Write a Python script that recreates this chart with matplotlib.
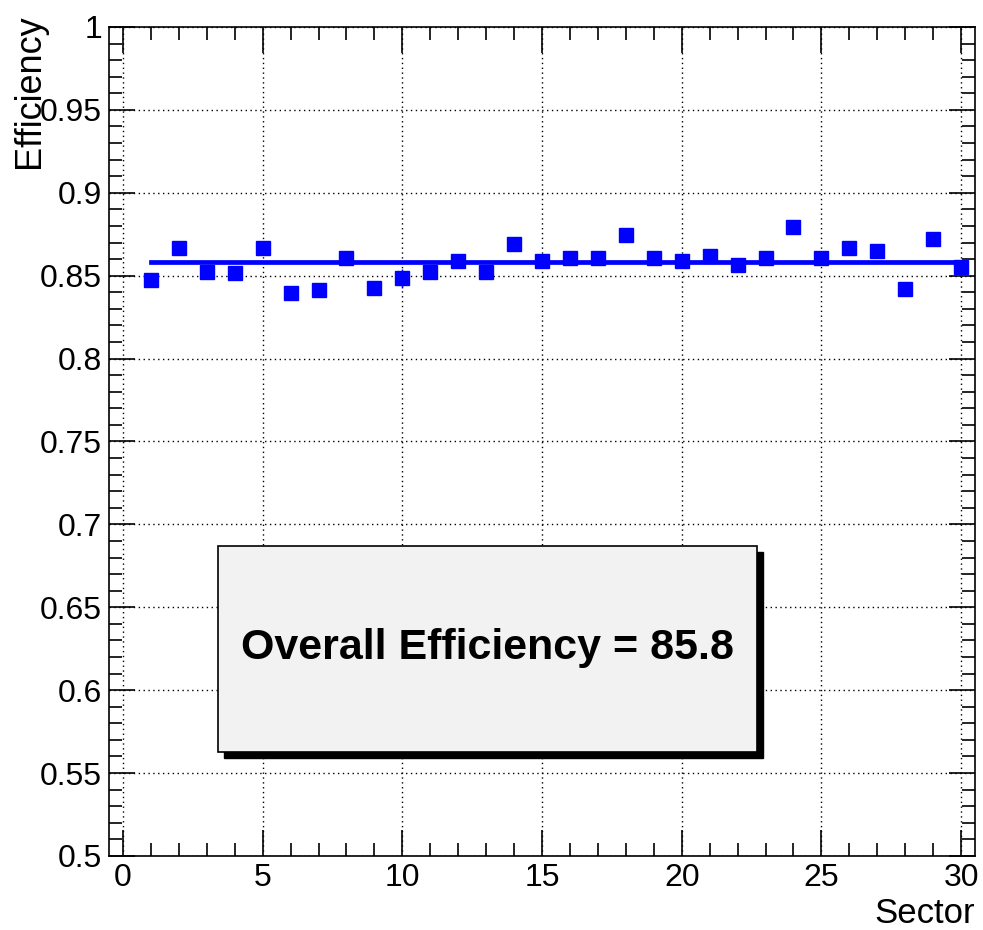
import matplotlib
matplotlib.use("Agg")
import matplotlib.pyplot as plt
import numpy as np
from matplotlib.ticker import MultipleLocator
from matplotlib.patches import Rectangle

plt.rcParams['font.family'] = ['Liberation Sans', 'DejaVu Sans']

# efficiency per sector
sectors = list(range(1, 31))
eff = [0.8472, 0.8669, 0.8522, 0.8516, 0.8669, 0.8396, 0.8416, 0.8609, 0.8428, 0.8483,
       0.8520, 0.8587, 0.8520, 0.8694, 0.8587, 0.8609, 0.8609, 0.8744, 0.8609, 0.8587,
       0.8619, 0.8567, 0.8609, 0.8796, 0.8609, 0.8669, 0.8651, 0.8418, 0.8724, 0.8552]
err = [0.003, 0.003, 0.003, 0.003, 0.003, 0.004, 0.003, 0.003, 0.003, 0.0058,
       0.003, 0.003, 0.003, 0.003, 0.003, 0.003, 0.003, 0.003, 0.003, 0.003,
       0.003, 0.003, 0.003, 0.003, 0.003, 0.003, 0.003, 0.003, 0.003, 0.003]
overall = 85.8

fig = plt.figure(figsize=(9.83, 9.30), dpi=100)
ax = fig.add_axes([0.1109, 0.0796, 0.881, 0.8914])

# fit line (constant)
ax.plot([1, 30], [overall / 100, overall / 100], color='#0000ff', lw=3.4, zorder=2)
ax.errorbar(sectors, eff, yerr=err, fmt='s', color='#0000ff', ms=10,
            elinewidth=1, capsize=0, zorder=3)

ax.set_xlim(-0.5, 30.5)
ax.set_ylim(0.5, 1.0)
ax.xaxis.set_major_locator(MultipleLocator(5))
ax.xaxis.set_minor_locator(MultipleLocator(1))
ax.yaxis.set_major_locator(MultipleLocator(0.05))
ax.yaxis.set_minor_locator(MultipleLocator(0.01))
ax.yaxis.set_major_formatter(plt.FuncFormatter(lambda v, p: ('%g' % round(v, 2))))
ax.tick_params(which='both', direction='in', top=True, right=True, labelsize=23, width=1.2)
ax.tick_params(which='major', length=19, pad=5)
ax.tick_params(which='minor', length=9.5)
ax.tick_params(axis='y', pad=5)
ax.grid(True, which='major', linestyle=(0, (1, 2.5)), color='black', lw=1)
ax.set_axisbelow(True)
for s in ax.spines.values():
    s.set_linewidth(1.2)

# stats box with shadow
x0, y0, w, h = 218, 178, 539, 206
fig.patches.append(Rectangle(((x0 + 6) / 983, (y0 - 6) / 930), w / 983, h / 930,
                             transform=fig.transFigure, facecolor='black', edgecolor='black', zorder=5))
fig.patches.append(Rectangle((x0 / 983, y0 / 930), w / 983, h / 930,
                             transform=fig.transFigure, facecolor='#f2f2f2', edgecolor='black',
                             lw=1.2, zorder=6))
fig.text((x0 + w / 2) / 983, (y0 + h / 2 + 1) / 930, 'Overall Efficiency = %.1f' % overall,
         ha='center', va='center', fontsize=31, fontweight='bold', zorder=7)

fig.text(30 / 983, 0.985, 'Efficiency', rotation=90, ha='center', va='top', fontsize=26)
fig.text(975 / 983, 1 - 913 / 930, 'Sector', ha='right', va='center', fontsize=25)

fig.savefig('out.png', dpi=100)
